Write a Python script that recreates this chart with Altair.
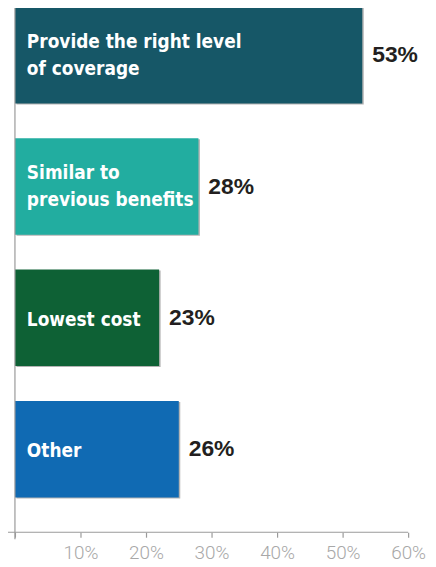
import altair as alt
import pandas as pd

# ---- data ----
categories = ["Provide the right level of coverage", "Similar to previous benefits", "Lowest cost", "Other"]
label_lines = [["Provide the right level", "of coverage"], ["Similar to", "previous benefits"], ["Lowest cost"], ["Other"]]
bar_values = [53, 28, 22, 25]          # bar lengths as drawn (%)
value_labels = ["53%", "28%", "23%", "26%"]
bar_colors = ["#165767", "#22ada0", "#0e6135", "#106ab3"]
tick_values = [0, 10, 20, 30, 40, 50, 60]

df = pd.DataFrame({
    "cat": categories,
    "lines": label_lines,
    "n": [len(l) for l in label_lines],
    "v": bar_values,
    "lab": value_labels,
    "col": bar_colors,
})

W, H = 396, 534
LH = 27

yscale = alt.Scale(domain=categories, paddingInner=0.265, paddingOuter=0.1515, align=0.125)
xscale = alt.Scale(domain=[0, 60], nice=False, zero=True)

y_enc = alt.Y("cat:N", sort=categories, scale=yscale, axis=None)
x_enc = alt.X(
    "v:Q",
    scale=xscale,
    axis=alt.Axis(
        values=tick_values,
        labelExpr="datum.value == 0 ? '' : datum.value + '%'",
        labelFlush=False,
        labelOverlap=False,
        domain=False,
        grid=False,
        ticks=True,
        tickSize=5,
        tickColor="#9a9a9a",
        tickWidth=1.2,
        labelColor="#a8a8a8",
        labelFont="Roboto",
        labelFontWeight=300,
        labelFontSize=19,
        labelPadding=6,
        title=None,
    ),
)

base = alt.Chart(df)

shadow = base.mark_bar(color="#a0a0a0", xOffset=1.5, yOffset=1, opacity=0.8).encode(
    x=x_enc, y=y_enc
)

bars = base.mark_bar().encode(
    x=x_enc,
    y=y_enc,
    color=alt.Color("col:N", scale=None, legend=None),
)

inner_font = "'DejaVu Sans Condensed', 'Roboto Condensed', 'Liberation Sans Narrow', 'Arial Narrow', Roboto"

inner2 = base.transform_filter("datum.n == 2").mark_text(
    align="left", baseline="middle", x=12, dy=-LH / 2, color="white",
    font=inner_font, fontWeight="bold", fontSize=19, lineHeight=LH,
).encode(y=y_enc, text="lines")

inner1 = base.transform_filter("datum.n == 1").mark_text(
    align="left", baseline="middle", x=12, dy=2, color="white",
    font=inner_font, fontWeight="bold", fontSize=19, lineHeight=LH,
).encode(y=y_enc, text="lines")

vals = base.mark_text(
    align="left", baseline="middle", dx=10, color="#231f20",
    font="Liberation Sans", fontWeight="bold", fontSize=23,
).encode(x=x_enc, y=y_enc, text="lab:N")

axis_data = alt.Data(values=[{"a": 1}])
yaxis_line = alt.Chart(axis_data).mark_rule(color="#9a9a9a", strokeWidth=1.2).encode(
    x=alt.value(0), y=alt.value(5), y2=alt.value(H + 7)
)
xaxis_line = alt.Chart(axis_data).mark_rule(color="#9a9a9a", strokeWidth=1.2).encode(
    x=alt.value(-7), x2=alt.value(W), y=alt.value(H)
)

chart = alt.layer(shadow, bars, inner2, inner1, vals, yaxis_line, xaxis_line).properties(
    width=W,
    height=H,
    autosize=alt.AutoSizeParams(type="none"),
    padding={"left": 7, "top": -8, "right": 20, "bottom": 29},
    background="white",
).configure_view(stroke=None)

chart.save("out.html", embed_options={"renderer": "svg", "actions": False})
